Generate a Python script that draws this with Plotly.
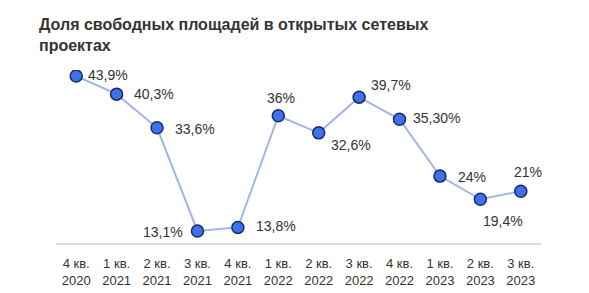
import plotly.graph_objects as go

categories = ["4 кв.<br>2020", "1 кв.<br>2021", "2 кв.<br>2021", "3 кв.<br>2021",
              "4 кв.<br>2021", "1 кв.<br>2022", "2 кв.<br>2022", "3 кв.<br>2022",
              "4 кв.<br>2022", "1 кв.<br>2023", "2 кв.<br>2023", "3 кв.<br>2023"]
values = [43.9, 40.3, 33.6, 13.1, 13.8, 36.0, 32.6, 39.7, 35.3, 24.0, 19.4, 21.0]
labels = ["43,9%", "40,3%", "33,6%", "13,1%", "13,8%", "36%", "32,6%", "39,7%",
          "35,30%", "24%", "19,4%", "21%"]
title_text = "<b>Доля свободных площадей в открытых сетевых<br>проектах</b>"

# label offsets in pixels (style only)
xshifts = [32, 37, 38, -34, 38, 3, 32, 32, 37, 32, 23, 7]
yshifts = [1, 0, -1, -1, 1, 18, -12, 12, 1, -1, -22, 19]

fig = go.Figure()
fig.add_trace(go.Scatter(
    x=categories, y=values, mode="lines+markers",
    line=dict(color="#9fb5ea", width=2),
    marker=dict(size=12, color="#3f72ea", line=dict(color="#1a2a66", width=1.5)),
    hoverinfo="skip", showlegend=False,
))

for c, v, t, dx, dy in zip(categories, values, labels, xshifts, yshifts):
    fig.add_annotation(x=c, y=v, text=t, showarrow=False, xshift=dx, yshift=dy,
                       font=dict(family="Liberation Sans, Arial", size=14, color="#333333"))

fig.add_annotation(text=title_text, xref="paper", yref="paper",
                   x=(37 - 56) / 485, y=1 + (70 - 14) / 173, xanchor="left", yanchor="top",
                   align="left", showarrow=False,
                   font=dict(family="Liberation Sans, Arial", size=16, color="#333333"))

fig.update_layout(
    width=589, height=293,
    margin=dict(l=56, r=48, t=70, b=50, autoexpand=False),
    paper_bgcolor="white", plot_bgcolor="white",
    xaxis=dict(type="category", range=[-0.5, 11.5], showgrid=False, zeroline=False,
               showline=True, linecolor="#dcdcdc", linewidth=2, ticks="",
               ticklabelstandoff=7, automargin=False,
               tickfont=dict(family="Liberation Sans, Arial", size=13, color="#333333")),
    yaxis=dict(range=[10.7, 45.1], showgrid=False, zeroline=False, showticklabels=False,
               showline=False, automargin=False),
)

fig.write_html("out.html")
